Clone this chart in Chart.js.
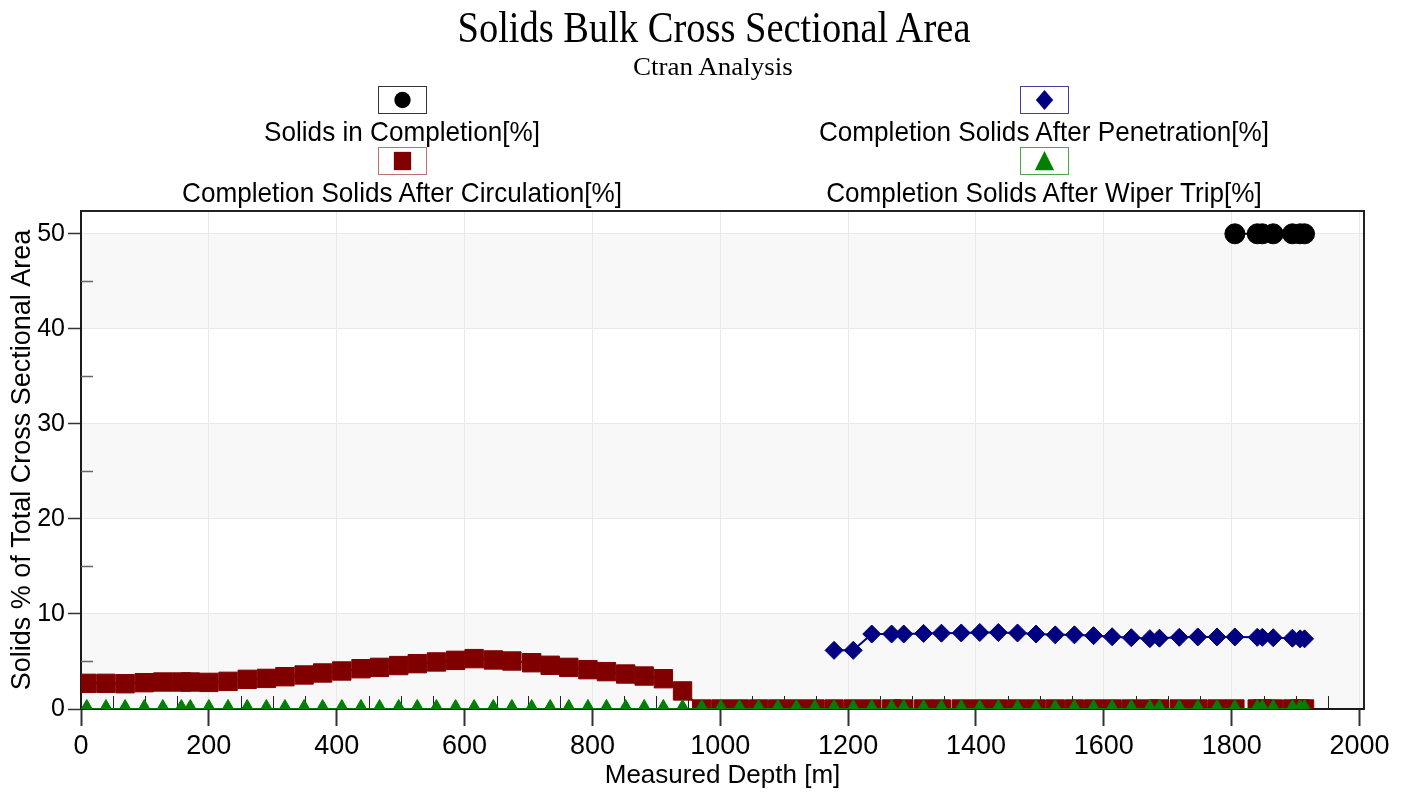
<!DOCTYPE html>
<html><head><meta charset="utf-8">
<script src="https://cdn.jsdelivr.net/npm/chart.js@4.4.1/dist/chart.umd.min.js"></script>
<style>
html,body{margin:0;padding:0;background:#fff;}
#wrap{position:relative;width:1409px;height:794px;overflow:hidden;}
#c{position:absolute;left:0;top:0;}
.t{position:absolute;white-space:nowrap;color:#000;text-align:center;line-height:1;}
#title{font-family:"Liberation Serif","Times New Roman",serif;font-size:45px;left:213.5px;width:1000px;top:5px;transform:scaleX(0.855);}
#subtitle{font-family:"Liberation Serif","Times New Roman",serif;font-size:25px;left:212.5px;width:1000px;top:54px;transform:scaleX(1.08);}
.lt{font-family:"Liberation Sans",Arial,sans-serif;font-size:28px;width:800px;transform:scaleX(0.933);}
.lb{position:absolute;width:47px;height:26px;background:#fff;box-sizing:content-box;}
.lb svg{position:absolute;left:0;top:0;}
</style></head><body>
<div id="wrap"><canvas id="c" width="1409" height="794"></canvas>
<div id="title" class="t">Solids Bulk Cross Sectional Area</div>
<div id="subtitle" class="t">Ctran Analysis</div>
<div id="legend"></div>
</div>
<script>
// ---------------- data ----------------
const seriesNames = [
  "Solids in Completion[%]",
  "Completion Solids After Penetration[%]",
  "Completion Solids After Circulation[%]",
  "Completion Solids After Wiper Trip[%]"
];
const seriesColors = ["#000000", "#000080", "#800000", "#008000"];

// measured depth grid [m] shared by circulation / wiper trip
const depthGrid = [9, 39, 69, 99, 128, 157, 171, 200, 230, 260, 290, 319, 349, 378, 408, 438, 467, 497, 526, 556,
  586, 615, 645, 674, 705, 734, 763, 793, 822, 852, 881, 911, 941, 971, 1001, 1030, 1060, 1090, 1119, 1148,
  1178, 1208, 1237, 1268, 1287, 1318, 1346, 1377, 1406, 1435, 1465, 1494, 1524, 1554, 1584, 1613, 1643, 1672, 1687, 1718,
  1747, 1777, 1805, 1840, 1848, 1865, 1895, 1907, 1914];

const circulationPct = [2.70, 2.70, 2.66, 2.77, 2.84, 2.84, 2.84, 2.80, 2.91, 3.12, 3.22, 3.40, 3.58, 3.79, 4.00, 4.24, 4.38, 4.57, 4.77, 4.95,
  5.12, 5.30, 5.16, 5.05, 4.87, 4.60, 4.38, 4.14, 3.93, 3.68, 3.47, 3.19, 1.90, 0, 0, 0, 0, 0, 0, 0,
  0, 0, 0, 0, 0, 0, 0, 0, 0, 0, 0, 0, 0, 0, 0, 0, 0, 0, 0, 0,
  0, 0, 0, 0, 0, 0, 0, 0, 0];

const wiperTripPct = [0, 0, 0, 0, 0, 0, 0, 0, 0, 0, 0, 0, 0, 0, 0, 0, 0, 0, 0, 0,
  0, 0, 0, 0, 0, 0, 0, 0, 0, 0, 0, 0, 0, 0, 0, 0, 0, 0, 0, 0,
  0, 0, 0, 0, 0, 0, 0, 0, 0, 0, 0, 0, 0, 0, 0, 0, 0, 0, 0, 0,
  0, 0, 0, 0, 0, 0, 0, 0, 0];

const penetrationDepth = [1178, 1208, 1237, 1268, 1287, 1318, 1346, 1377, 1406, 1435, 1465, 1494, 1524, 1554, 1584,
  1613, 1643, 1672, 1687, 1718, 1747, 1777, 1805, 1840, 1848, 1865, 1895, 1907, 1914];
const penetrationPct = [6.17, 6.17, 7.89, 7.89, 7.89, 7.95, 7.98, 8.00, 8.05, 8.05, 8.00, 7.89, 7.80, 7.80, 7.72,
  7.60, 7.50, 7.40, 7.45, 7.54, 7.58, 7.58, 7.58, 7.54, 7.54, 7.50, 7.45, 7.38, 7.38];

const completionDepth = [1805, 1840, 1848, 1865, 1895, 1907, 1914];
const completionPct = [50, 50, 50, 50, 50, 50, 50];

const xTickValues = [0, 200, 400, 600, 800, 1000, 1200, 1400, 1600, 1800, 2000];
const yTickValues = [0, 10, 20, 30, 40, 50];
const xRange = [0, 2007];
const yRange = [0, 52.4];
const xMinorStep = 50, yMinorStep = 5;
const shadedBands = [[0, 10], [20, 30], [40, 50]];

// ---------------- helpers ----------------
const pts = (xs, ys) => xs.map((x, i) => ({x: x, y: ys[i]}));
const SANS = '"Liberation Sans", Arial, sans-serif';

const bandPlugin = {
  id: 'bands',
  beforeDraw(chart) {
    const {ctx, chartArea: a, scales: {y}} = chart;
    ctx.save();
    ctx.fillStyle = '#f8f8f8';
    shadedBands.forEach(([lo, hi]) => {
      const t = y.getPixelForValue(hi), b = y.getPixelForValue(lo);
      ctx.fillRect(a.left, t, a.right - a.left, b - t);
    });
    ctx.restore();
  }
};

const framePlugin = {
  id: 'frame',
  beforeDatasetsDraw(chart) {
    const {ctx, chartArea: a, scales: {x, y}} = chart;
    ctx.save();
    // minor ticks (inside)
    ctx.lineWidth = 1;
    ctx.strokeStyle = '#222';
    for (let v = xRange[0] + xMinorStep; v < xRange[1]; v += xMinorStep) {
      if (xTickValues.includes(v)) continue;
      const px = Math.round(x.getPixelForValue(v)) + 0.5;
      ctx.beginPath(); ctx.moveTo(px, a.bottom); ctx.lineTo(px, a.bottom - 13); ctx.stroke();
    }
    ctx.strokeStyle = '#666';
    ctx.lineWidth = 1.5;
    for (let v = yRange[0] + yMinorStep; v < yRange[1]; v += yMinorStep) {
      if (yTickValues.includes(v)) continue;
      const py = Math.round(y.getPixelForValue(v)) + 0.5;
      ctx.beginPath(); ctx.moveTo(a.left, py); ctx.lineTo(a.left + 12, py); ctx.stroke();
    }
    // top / right frame
    ctx.strokeStyle = '#222';
    ctx.lineWidth = 2;
    ctx.beginPath();
    ctx.moveTo(a.left, a.top); ctx.lineTo(a.right, a.top); ctx.lineTo(a.right, a.bottom);
    ctx.stroke();
    ctx.restore();
  }
};

const common = {showLine: true, borderWidth: 2, pointBorderWidth: 1, clip: 0};

const chart = new Chart(document.getElementById('c'), {
  type: 'scatter',
  data: {
    datasets: [
      Object.assign({}, common, {label: seriesNames[0], data: pts(completionDepth, completionPct),
        borderColor: seriesColors[0], backgroundColor: seriesColors[0], pointStyle: 'circle', pointRadius: 10, pointHoverRadius: 10, order: 0}),
      Object.assign({}, common, {label: seriesNames[1], data: pts(penetrationDepth, penetrationPct),
        borderColor: seriesColors[1], backgroundColor: seriesColors[1], pointStyle: 'rectRot', pointRadius: 9, pointHoverRadius: 9, order: 1}),
      Object.assign({}, common, {label: seriesNames[2], data: pts(depthGrid, circulationPct),
        borderColor: seriesColors[2], backgroundColor: seriesColors[2], pointStyle: 'rect', pointRadius: 13, pointHoverRadius: 13, order: 3}),
      Object.assign({}, common, {label: seriesNames[3], data: pts(depthGrid, wiperTripPct),
        borderColor: seriesColors[3], backgroundColor: seriesColors[3], pointStyle: 'triangle', pointRadius: 9.5, pointHoverRadius: 9.5, order: 2})
    ]
  },
  options: {
    responsive: false,
    animation: false,
    events: [],
    devicePixelRatio: 1,
    layout: {autoPadding: false, padding: {top: 211, right: 45, left: 0, bottom: 0}},
    plugins: {legend: {display: false}, tooltip: {enabled: false}},
    scales: {
      x: {
        type: 'linear', min: xRange[0], max: xRange[1],
        afterFit: s => { s.height = 85; },
        afterBuildTicks: s => { s.ticks = xTickValues.map(v => ({value: v})); },
        ticks: {color: '#000', padding: 4, autoSkip: false,
          font: {family: SANS, size: 27}, maxRotation: 0, callback: v => String(v)},
        grid: {color: '#e9e9e9', lineWidth: 1, tickColor: '#333', tickLength: 17, tickWidth: 2},
        border: {display: true, color: '#1a1a1a', width: 2},
        title: {display: true, text: 'Measured Depth [m]', color: '#000',
          font: {family: SANS, size: 26}, padding: {top: 0, bottom: 3}}
      },
      y: {
        type: 'linear', min: yRange[0], max: yRange[1],
        afterFit: s => { s.width = 81; },
        afterBuildTicks: s => { s.ticks = yTickValues.map(v => ({value: v})); },
        ticks: {color: '#000', padding: 3, autoSkip: false,
          font: {family: SANS, size: 25}, callback: v => String(v)},
        grid: {color: '#e9e9e9', lineWidth: 1, tickColor: '#333', tickLength: 13, tickWidth: 1.5},
        border: {display: true, color: '#1a1a1a', width: 2},
        title: {display: true, text: 'Solids % of Total Cross Sectional Area', color: '#000',
          font: {family: SANS, size: 27}, padding: {top: 6, bottom: 0}}
      }
    }
  },
  plugins: [bandPlugin, framePlugin]
});

// ---------------- legend (HTML) ----------------
const legendLayout = [
  {col: 402, boxTop: 86, textTop: 118},
  {col: 1043.5, boxTop: 86, textTop: 118},
  {col: 402, boxTop: 147, textTop: 179},
  {col: 1043.5, boxTop: 147, textTop: 179}
];
const legendBorder = ['rgba(0,0,0,0.8)', 'rgba(0,0,128,0.75)', 'rgba(128,0,0,0.55)', 'rgba(0,128,0,0.7)'];
const markerSvg = [
  c => `<circle cx="24" cy="13.5" r="8.5" fill="${c}"/>`,
  c => `<polygon points="24,3 33,13.5 24,24 15,13.5" fill="${c}"/>`,
  c => `<rect x="15" y="4" width="18" height="19" fill="${c}"/>`,
  c => `<polygon points="24,3 34,23 14,23" fill="${c}"/>`
];
const legendOrder = [0, 1, 2, 3];
const legendEl = document.getElementById('legend');
legendOrder.forEach((si, k) => {
  const L = legendLayout[k];
  const box = document.createElement('div');
  box.className = 'lb';
  box.style.left = (L.col - 24) + 'px';
  box.style.top = L.boxTop + 'px';
  box.style.border = '1px solid ' + legendBorder[si];
  box.innerHTML = `<svg width="47" height="26" viewBox="0 0 48 27">${markerSvg[si](seriesColors[si])}</svg>`;
  legendEl.appendChild(box);
  const t = document.createElement('div');
  t.className = 't lt';
  t.style.left = (L.col - 400) + 'px';
  t.style.top = L.textTop + 'px';
  t.textContent = seriesNames[si];
  legendEl.appendChild(t);
});
</script>
</body></html>
